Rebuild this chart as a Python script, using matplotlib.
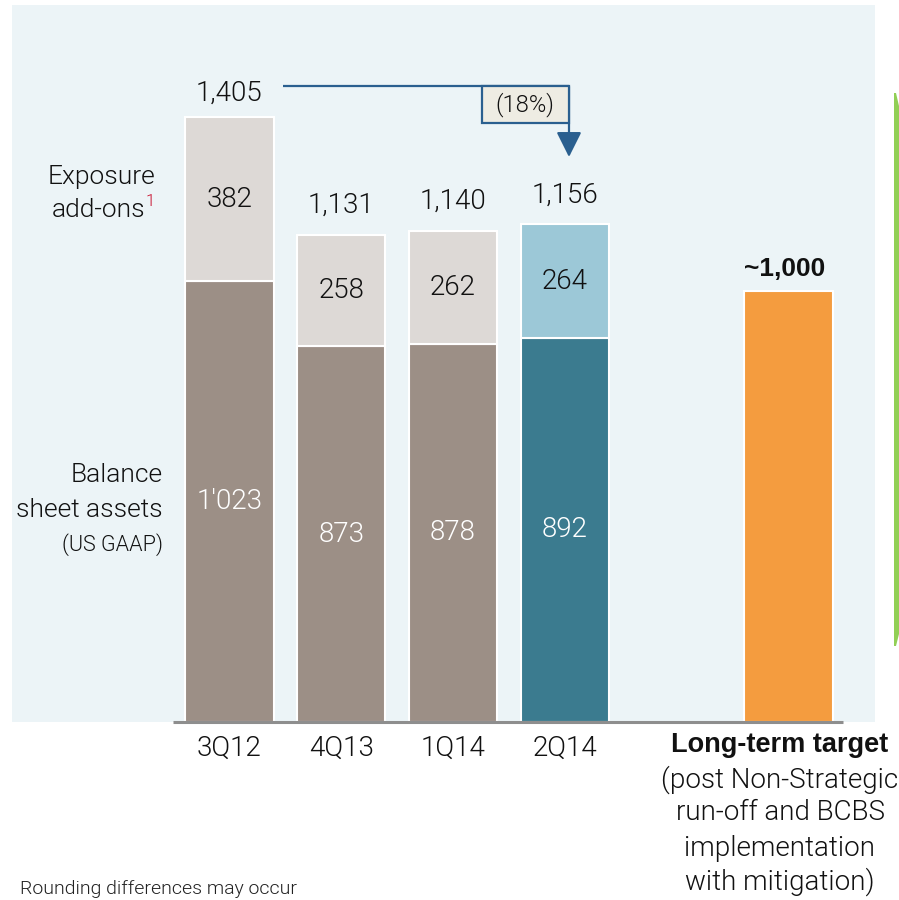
import matplotlib
matplotlib.use("Agg")
import matplotlib.pyplot as plt
from matplotlib.patches import Rectangle, Polygon, FancyArrowPatch

plt.rcParams['font.family'] = ['Roboto', 'DejaVu Sans']
plt.rcParams['font.weight'] = 300

# Data (USD bn leverage exposure)
periods = ["3Q12", "4Q13", "1Q14", "2Q14"]
balance_sheet = [1023, 873, 878, 892]
addons = [382, 258, 262, 264]
totals = [1405, 1131, 1140, 1156]
balance_labels = ["1'023", "873", "878", "892"]
target_value = 1000
target_label = "~1,000"
change_label = "(18%)"

W, H = 899, 900
fig = plt.figure(figsize=(W / 100, H / 100), dpi=100)
fig.patch.set_facecolor("white")

BOLD = dict(family=["Liberation Sans", "DejaVu Sans"], fontweight="bold")
TXT = "#111111"


def fx(px):
    return px / W


def fy(py):
    return 1 - py / H


# Plot panel
ax = fig.add_axes([fx(12), fy(722), (875 - 12) / W, (722 - 5) / H])
ax.set_facecolor("#ECF4F7")
ax.set_xlim(-1.945, 5.774)
ax.set_ylim(0, 1665)
for s in ax.spines.values():
    s.set_visible(False)
ax.set_xticks([])
ax.set_yticks([])

xs = [0, 1, 2, 3]
x_target = 5
bw = 0.79
bottom_colors = ["#9C8F86", "#9C8F86", "#9C8F86", "#3B7B8F"]
top_colors = ["#DDD9D6", "#DDD9D6", "#DDD9D6", "#9CC8D7"]

ax.bar(xs, balance_sheet, width=bw, color=bottom_colors, edgecolor="white",
       linewidth=1.5, zorder=2)
ax.bar(xs, addons, bottom=balance_sheet, width=bw, color=top_colors,
       edgecolor="white", linewidth=1.5, zorder=2)
ax.bar([x_target], [target_value], width=bw, color="#F49C3F", edgecolor="white",
       linewidth=1.5, zorder=2)

# Baseline
ax.plot([-0.505, 5.487], [0, 0], color="#8E8E8E", lw=2.2, zorder=3,
        clip_on=False, solid_capstyle="butt")

# Segment labels
for x, b, a, bl in zip(xs, balance_sheet, addons, balance_labels):
    ax.text(x, b / 2, bl, ha="center", va="center", fontsize=20,
            color="white", zorder=4)
    ax.text(x, b + a / 2, f"{a}", ha="center", va="center", fontsize=20,
            color=TXT, zorder=4)

# Totals above bars
total_offsets = [24, 30, 30, 29]
for x, t, off in zip(xs, totals, total_offsets):
    ax.annotate(f"{t:,}", (x, t), xytext=(0, off * 0.72), textcoords="offset points",
                ha="center", va="center", fontsize=20, color=TXT)

ax.annotate(target_label, (x_target, target_value), xytext=(-3, 22 * 0.72),
            textcoords="offset points", ha="center", va="center",
            fontsize=19, color=TXT, **BOLD)

# Change arrow from 3Q12 to 2Q14
arrow_c = "#2A5F8F"
y_line = 1476
x_start, x_end = 0.478, 3.037
ax.plot([x_start, x_end], [y_line, y_line], color=arrow_c, lw=1.6, zorder=5,
        solid_capstyle="butt")
ax.add_patch(FancyArrowPatch((x_end, y_line), (x_end, 1312),
                             arrowstyle="-|>,head_length=1.1,head_width=0.55",
                             mutation_scale=14, color=arrow_c, lw=1.6,
                             shrinkA=0, shrinkB=0, zorder=5))
ax.add_patch(Rectangle((2.255, 1392), x_end - 2.255, y_line - 1392,
                       facecolor="#EEECE3", edgecolor=arrow_c, lw=1.6, zorder=6))
ax.text((2.255 + x_end) / 2, (1392 + y_line) / 2, change_label, ha="center",
        va="center", fontsize=17, color=TXT, zorder=7)

# Category labels
xt = ax.get_xaxis_transform()
for x, p in zip(xs, periods):
    ax.text(x, -0.036, p, transform=xt, ha="center", va="center",
            fontsize=20, color=TXT, clip_on=False)

tx = 780
fig.text(fx(tx), fy(745), "Long-term target", ha="center", va="center",
         fontsize=19.5, color=TXT, **BOLD)
for line, py in zip(["(post Non-Strategic", "run-off and BCBS", "implementation",
                     "with mitigation)"], [780, 813, 849, 882]):
    fig.text(fx(tx), fy(py), line, ha="center", va="center", fontsize=20,
             color=TXT)

# Series labels on the left
fig.text(fx(155), fy(177), "Exposure", ha="right", va="center", fontsize=19,
         color=TXT)
fig.text(fx(145), fy(210), "add-ons", ha="right", va="center", fontsize=19,
         color=TXT)
fig.text(fx(146), fy(201), "1", ha="left", va="center", fontsize=12,
         color="#C8102E")
fig.text(fx(163), fy(475), "Balance", ha="right", va="center", fontsize=19,
         color=TXT)
fig.text(fx(163), fy(510), "sheet assets", ha="right", va="center",
         fontsize=19, color=TXT)
fig.text(fx(163), fy(545), "(US GAAP)", ha="right", va="center", fontsize=15.5,
         color=TXT)

# Footnote
fig.text(fx(20), fy(898), "Rounding differences may occur", ha="left",
         va="bottom", fontsize=14, color="#222222")

# Green bracket edge on the right
fig.patches.append(Polygon([(fx(894), fy(93)), (fx(896), fy(93)), (fx(899), fy(106)),
                            (fx(899), fy(634)), (fx(896), fy(646)), (fx(894), fy(646))],
                           closed=True, transform=fig.transFigure,
                           facecolor="#92CF55", edgecolor="none"))

fig.savefig("out.png", dpi=100)
